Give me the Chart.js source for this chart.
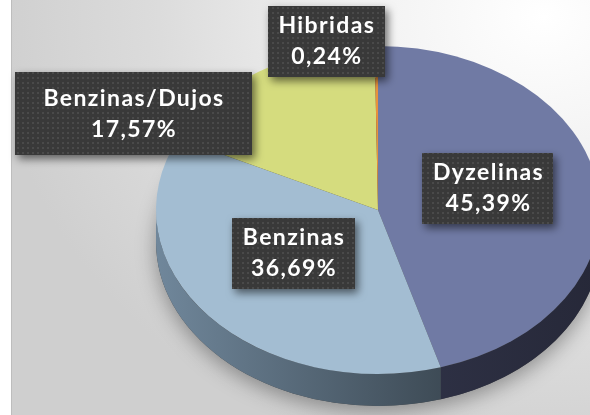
<!DOCTYPE html>
<html>
<head>
<meta charset="utf-8">
<script src="https://cdn.jsdelivr.net/npm/chart.js@4/dist/chart.umd.min.js"></script>
<style>
  html, body { margin: 0; padding: 0; background: #fff; }
  #wrap { position: relative; width: 590px; height: 415px; overflow: hidden; }
  #bg {
    position: absolute; left: 11px; top: 0; right: 0; bottom: 0;
    border-left: 1px solid #bdbdbd;
    background: radial-gradient(ellipse 95% 110% at 92% 4%, #ffffff 0%, #f1f1f1 35%, #dcdcdc 70%, #cfcfcf 100%);
  }
  #holder { position: absolute; left: 0; top: 0; width: 590px; height: 415px; }
</style>
</head>
<body>
<div id="wrap">
  <div id="bg"></div>
  <div id="holder"><canvas id="pieChart"></canvas></div>
</div>
<script>
// data
const fuelTypes = ['Dyzelinas', 'Benzinas', 'Benzinas/Dujos', 'Hibridas'];
const shares = [45.39, 36.69, 17.57, 0.24];

// styles
const topColors = ['#707aa4', '#a3bdd2', '#d5dc7e', '#e8913c'];
const sideLeft = ['#3a3e58', '#70879b', '#8e934e', '#9a5a22'];
const sideRight = ['#262838', '#222a30', '#4a4d26', '#5a3210'];
const stretch = 222 / 164;
const depth = 32;
const padX = [10, 10, 28, 10];
const padY = [4.5, 4.5, 10.5, 4.5];
const labelShift = [[0, 0], [0, 0], [-185, -17], [-51, -77]];

function fmtPct(v) {
    return v.toFixed(2).replace('.', ',') + '%';
}

function makePattern(ctx) {
    const c = document.createElement('canvas');
    c.width = 5; c.height = 5;
    const p = c.getContext('2d');
    p.fillStyle = '#393939';
    p.fillRect(0, 0, 5, 5);
    p.fillStyle = '#4a4a4a';
    p.fillRect(2, 2, 2, 2);
    return ctx.createPattern(c, 'repeat');
}

const pie3d = {
    id: 'pie3d',
    beforeDatasetsDraw(chart) {
        const ctx = chart.ctx;
        const arcs = chart.getDatasetMeta(0).data;
        const cx = arcs[0].x, cy = arcs[0].y;
        const ry = arcs[0].outerRadius, rx = ry * stretch;

        // soft shadow under the pie
        ctx.save();
        ctx.shadowColor = 'rgba(0,0,0,0.35)';
        ctx.shadowBlur = 20;
        ctx.shadowOffsetY = 6;
        ctx.beginPath();
        ctx.ellipse(cx, cy + depth, rx, ry, 0, 0, 2 * Math.PI);
        ctx.fillStyle = '#444';
        ctx.fill();
        ctx.restore();

        // side walls, only the front half is visible
        arcs.forEach((arc, i) => {
            const s = Math.max(arc.startAngle, 0);
            const e = Math.min(arc.endAngle, Math.PI);
            if (e <= s) return;
            const g = ctx.createLinearGradient(cx - rx, 0, cx + rx, 0);
            g.addColorStop(0, sideLeft[i]);
            g.addColorStop(1, sideRight[i]);
            ctx.beginPath();
            ctx.ellipse(cx, cy, rx, ry, 0, s, e);
            ctx.lineTo(cx + rx * Math.cos(e), cy + depth + ry * Math.sin(e));
            ctx.ellipse(cx, cy + depth, rx, ry, 0, e, s, true);
            ctx.closePath();
            ctx.fillStyle = g;
            ctx.fill();
        });

        // squash the top face into an ellipse
        ctx.save();
        ctx.translate(cx, cy);
        ctx.scale(stretch, 1);
        ctx.translate(-cx, -cy);
    },
    afterDatasetsDraw(chart) {
        const ctx = chart.ctx;
        ctx.restore();

        const arcs = chart.getDatasetMeta(0).data;
        const pattern = makePattern(ctx);
        const lineH = 31;
        ctx.save();
        ctx.font = 'bold 23px Lato, "Open Sans", sans-serif';
        ctx.letterSpacing = '1.4px';
        ctx.textAlign = 'center';
        ctx.textBaseline = 'middle';

        arcs.forEach((arc, i) => {
            const mid = (arc.startAngle + arc.endAngle) / 2;
            const r = arc.outerRadius * 0.5;
            const x = arc.x + r * stretch * Math.cos(mid) + labelShift[i][0];
            const y = arc.y + r * Math.sin(mid) - 10 + labelShift[i][1];
            const lines = [fuelTypes[i], fmtPct(shares[i])];
            const w = Math.max(...lines.map(t => ctx.measureText(t).width)) + 2 * padX[i];
            const h = 2 * lineH + 2 * padY[i];

            ctx.save();
            ctx.shadowColor = 'rgba(0,0,0,0.55)';
            ctx.shadowBlur = 8;
            ctx.shadowOffsetX = 3;
            ctx.shadowOffsetY = 4;
            ctx.fillStyle = pattern;
            ctx.fillRect(Math.round(x - w / 2), Math.round(y - h / 2), Math.round(w), Math.round(h));
            ctx.restore();

            ctx.fillStyle = '#ffffff';
            ctx.fillText(lines[0], x + 0.7, y - lineH / 2);
            ctx.fillText(lines[1], x + 0.7, y + lineH / 2);
        });
        ctx.restore();
    }
};

const ctx = document.getElementById('pieChart').getContext('2d');
const pieChart = new Chart(ctx, {
    type: 'pie',
    data: {
        labels: fuelTypes,
        datasets: [{
            data: shares,
            backgroundColor: topColors,
            borderWidth: 0,
            clip: false
        }]
    },
    options: {
        responsive: true,
        maintainAspectRatio: false,
        animation: false,
        layout: {
            padding: { left: 214, right: 48, top: 46, bottom: 41 }
        },
        plugins: {
            legend: { display: false },
            tooltip: { enabled: false }
        }
    },
    plugins: [pie3d]
});
</script>
</body>
</html>
